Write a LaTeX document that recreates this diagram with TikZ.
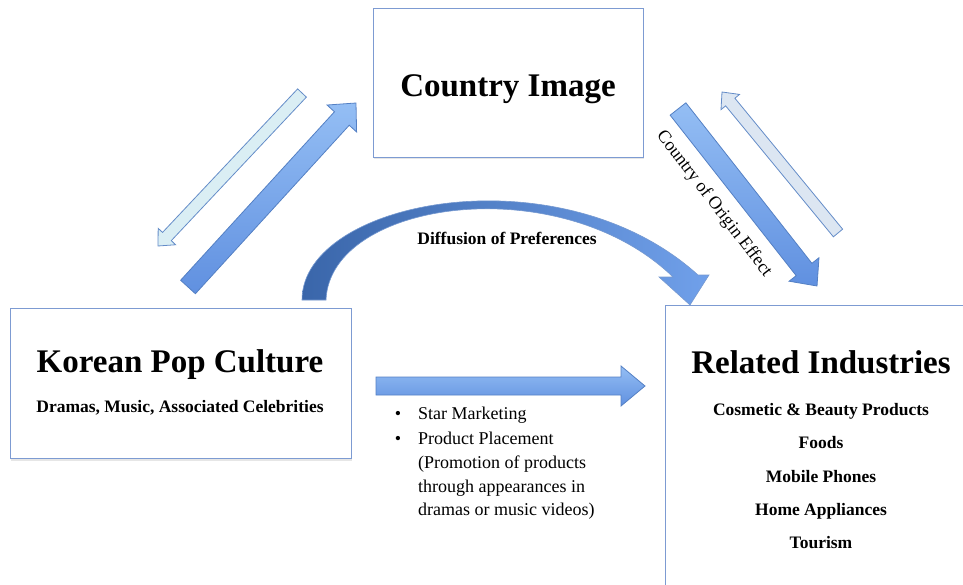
\documentclass[tikz,border=0pt]{standalone}
\usepackage{fontspec}
\setmainfont{Liberation Serif}
\usetikzlibrary{positioning,calc,shadows}

\definecolor{boxedge}{RGB}{125,155,210}
\definecolor{arrowedge}{RGB}{84,128,196}
\definecolor{arrowdark}{RGB}{96,144,224}
\definecolor{arrowlight}{RGB}{148,190,244}
\definecolor{paleedge}{RGB}{100,140,200}
\definecolor{paleleft}{RGB}{218,238,244}
\definecolor{paleright}{RGB}{220,230,242}
\definecolor{curvedark}{RGB}{58,102,170}
\definecolor{curvelight}{RGB}{112,160,234}

% block arrow from #2 to #3: shaft half width #4, head half width #5, head length #6
\newcommand{\blockarrow}[6][]{%
  \coordinate (hb) at ($(#3)!#6!(#2)$);
  \path[#1] ($(#2)!#4!-90:(#3)$) -- ($(hb)!#4!-90:(#3)$) -- ($(hb)!#5!-90:(#3)$)
    -- (#3) -- ($(hb)!#5!90:(#3)$) -- ($(hb)!#4!90:(#3)$) -- ($(#2)!#4!90:(#3)$) -- cycle;
}

\tikzset{
  panel/.style={draw=boxedge, fill=white, line width=0.9pt,
    drop shadow={shadow xshift=1pt, shadow yshift=-2.5pt, opacity=0.2}},
  title/.style={font=\fontsize{33}{38}\selectfont\bfseries, anchor=base},
  subtitle/.style={font=\fontsize{17.5}{21}\selectfont\bfseries, anchor=base},
  listtext/.style={font=\fontsize{18}{22}\selectfont, anchor=base west, inner sep=0pt},
  bigarrow/.style={draw=arrowedge, line width=0.8pt, top color=arrowlight, bottom color=arrowdark},
  palearrow/.style={draw=paleedge, line width=0.8pt, fill=#1},
  curvearrow/.style={draw=arrowedge!80, line width=0.6pt, left color=curvedark, right color=curvelight}
}

\begin{document}
\begin{tikzpicture}[x=1pt, y=-1pt]
    \useasboundingbox (0,0) rectangle (963,585);
    \clip (0,0) rectangle (963,585);

    % boxes
    \node[panel, minimum width=270pt, minimum height=149pt] (ci) at (508,82.5) {};
    \node[panel, minimum width=341pt, minimum height=150pt] (kpc) at (180.5,383) {};
    \node[panel, minimum width=320pt, minimum height=300pt] (ri) at (825,455) {};

    % box texts
    \node[title] (ciTitle) at (508,97) {Country Image};
    \node[title] (kpcTitle) at (180,372) {Korean Pop Culture};
    \node[subtitle] (kpcSub) at (180,412) {Dramas, Music, Associated Celebrities};
    \node[title] (riTitle) at (821,373) {Related Industries};
    \foreach \name/\yy in {{Cosmetic \& Beauty Products}/415, {Foods}/448, {Mobile Phones}/482,
        {Home Appliances}/515, {Tourism}/548}
        \node[subtitle] at (821,\yy) {\name};

    % end points of the straight arrows
    \coordinate (kpcUp) at (188,287);
    \coordinate (ciDown) at (356,103);
    \coordinate (ciBack) at (302,93);
    \coordinate (kpcBack) at (158,246);
    \coordinate (ciOut) at (678,109);
    \coordinate (riIn) at (817,286);
    \coordinate (riBack) at (838,233);
    \coordinate (ciBackR) at (722,92);
    \coordinate (kpcRight) at (376,386);
    \coordinate (riLeft) at (645,386);

    % culture <-> country image
    \blockarrow[palearrow=paleleft]{ciBack}{kpcBack}{6pt}{12pt}{13pt}
    \blockarrow[bigarrow]{kpcUp}{ciDown}{10pt}{20pt}{21pt}

    % country image <-> industries
    \blockarrow[bigarrow]{ciOut}{riIn}{10pt}{19pt}{21pt}
    \blockarrow[palearrow=paleright]{riBack}{ciBackR}{6pt}{12pt}{13pt}
    \node[font=\fontsize{18}{22}\selectfont, rotate=-52.6] (coo) at (714,204) {Country of Origin Effect};

    % culture -> industries
    \blockarrow[bigarrow]{kpcRight}{riLeft}{9pt}{20pt}{24pt}

    % diffusion arc
    \path[curvearrow] (302,300) .. controls (302,200) and (560,150) .. (698,275)
        -- (709,275) -- (690,305) -- (659,277) -- (673,277)
        .. controls (560,168) and (330,200) .. (326,300) -- cycle;
    \node[subtitle] (diff) at (507,244) {Diffusion of Preferences};

    % channels
    \foreach \txt/\yy in {{Star Marketing}/419, {Product Placement}/444,
        {(Promotion of products}/468, {through appearances in}/492, {dramas or music videos)}/515}
        \node[listtext] at (418,\yy) {\txt};
    \node[listtext, anchor=base] at (398,419) {•};
    \node[listtext, anchor=base] at (398,444) {•};
\end{tikzpicture}
\end{document}
